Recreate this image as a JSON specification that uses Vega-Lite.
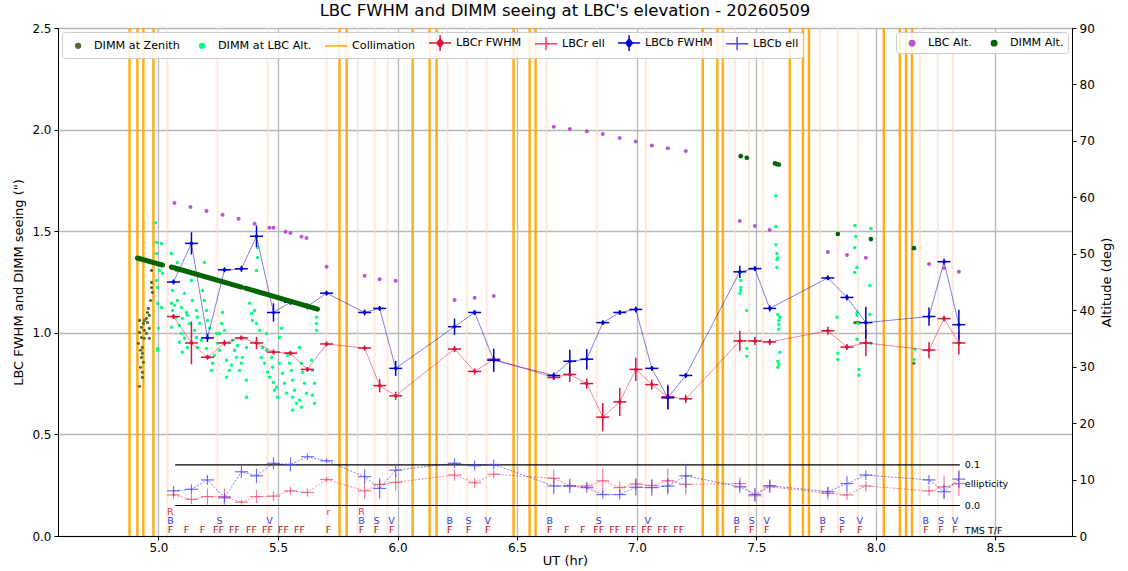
{
"$schema": "https://vega.github.io/schema/vega-lite/v6.json",
"width": 1014,
"height": 508,
"autosize": {"type": "none"},
"padding": {"left": 58, "top": 28, "right": 56, "bottom": 35},
"title": {"text": "LBC FWHM and DIMM seeing at LBC's elevation - 20260509", "fontSize": 16.5, "fontWeight": "normal", "font": "DejaVu Sans", "color": "black", "anchor": "middle", "offset": 3},
"config": {
  "font": "DejaVu Sans",
  "view": {"stroke": "black", "strokeWidth": 1},
  "axis": {"labelFontSize": 12, "titleFontSize": 13, "titleFontWeight": "normal", "labelColor": "black", "titleColor": "black", "domainColor": "black", "tickColor": "black", "tickSize": 4, "gridColor": "#b8b8b8", "gridWidth": 1.3, "labelPadding": 3, "titlePadding": 6},
  "axisX": {"labelPadding": 2, "titlePadding": 1},
  "legend": {"labelFontSize": 11.2, "labelColor": "black", "symbolSize": 144, "symbolStrokeWidth": 1.5, "labelOffset": 14, "padding": 4, "strokeColor": "#cccccc", "fillColor": "rgba(255,255,255,0.85)", "cornerRadius": 3, "columnPadding": 10, "symbolOpacity": 1, "offset": 4}
},
"datasets": {
  "filt": [{"t":5.038},{"t":5.247},{"t":5.456},{"t":5.703},{"t":5.833},{"t":5.904},{"t":5.958},{"t":6.209},{"t":6.289},{"t":6.372},{"t":6.623},{"t":6.833},{"t":7.038},{"t":7.41},{"t":7.469},{"t":7.527},{"t":7.766},{"t":7.841},{"t":7.925},{"t":8.184},{"t":8.259},{"t":8.322}],
  "coll": [{"t":4.879},{"t":4.912},{"t":4.937},{"t":4.979},{"t":5.757},{"t":5.787},{"t":6.063},{"t":6.134},{"t":6.163},{"t":6.485},{"t":6.552},{"t":6.577},{"t":7.276},{"t":7.337},{"t":7.36},{"t":7.64},{"t":7.695},{"t":7.72},{"t":8.033},{"t":8.1},{"t":8.126},{"t":8.151}],
  "dimmz": [{"t":4.971,"s":1.307},{"t":4.971,"s":1.248},{"t":4.971,"s":1.223},{"t":4.975,"s":1.199},{"t":4.967,"s":1.159},{"t":4.958,"s":1.12},{"t":4.954,"s":1.1},{"t":4.962,"s":1.086},{"t":4.95,"s":1.071},{"t":4.941,"s":1.061},{"t":4.921,"s":1.061},{"t":4.954,"s":1.051},{"t":4.937,"s":1.046},{"t":4.929,"s":1.027},{"t":4.962,"s":1.022},{"t":4.941,"s":1.012},{"t":4.921,"s":1.002},{"t":4.95,"s":0.997},{"t":4.929,"s":0.977},{"t":4.941,"s":0.973},{"t":4.962,"s":0.973},{"t":4.916,"s":0.948},{"t":4.933,"s":0.928},{"t":4.925,"s":0.914},{"t":4.933,"s":0.899},{"t":4.929,"s":0.879},{"t":4.937,"s":0.855},{"t":4.925,"s":0.83},{"t":4.933,"s":0.806},{"t":4.933,"s":0.781},{"t":4.921,"s":0.737},{"t":7.912,"s":1.05},{"t":7.921,"s":1.052},{"t":7.929,"s":1.05},{"t":8.159,"s":0.85}],
  "dimma": [{"t":4.987,"s":1.542},{"t":4.992,"s":1.444},{"t":5.013,"s":1.439},{"t":4.992,"s":1.39},{"t":5.013,"s":1.341},{"t":5.004,"s":1.307},{"t":5.017,"s":1.292},{"t":4.992,"s":1.257},{"t":4.996,"s":1.223},{"t":4.996,"s":1.144},{"t":5.013,"s":1.125},{"t":5.0,"s":1.022},{"t":4.996,"s":0.923},{"t":4.996,"s":0.914},
    {"t":5.054,"s":1.39},{"t":5.079,"s":1.346},{"t":5.075,"s":1.307},{"t":5.059,"s":1.208},{"t":5.054,"s":1.145},{"t":5.067,"s":1.135},{"t":5.059,"s":1.11},{"t":5.079,"s":1.159},{"t":5.096,"s":1.125},{"t":5.109,"s":1.194},{"t":5.117,"s":1.1},{"t":5.054,"s":1.027},{"t":5.075,"s":1.076},{"t":5.088,"s":1.036},{"t":5.1,"s":1.071},{"t":5.121,"s":1.086},{"t":5.138,"s":1.257},{"t":5.142,"s":1.159},{"t":5.13,"s":1.046},{"t":5.096,"s":0.997},{"t":5.109,"s":0.973},{"t":5.088,"s":0.953},{"t":5.121,"s":0.928},{"t":5.1,"s":0.904},{"t":5.159,"s":1.11},{"t":5.163,"s":1.076},{"t":5.172,"s":1.046},{"t":5.151,"s":1.012},{"t":5.159,"s":0.977},{"t":5.18,"s":0.963},{"t":5.163,"s":0.928},{"t":5.192,"s":1.346},{"t":5.184,"s":1.208},{"t":5.192,"s":1.159},{"t":5.201,"s":1.11},{"t":5.205,"s":1.061},{"t":5.213,"s":1.022},{"t":5.201,"s":0.923},{"t":5.213,"s":0.879},{"t":5.226,"s":0.85},{"t":5.222,"s":0.815},{"t":5.243,"s":0.997},{"t":5.247,"s":0.948},{"t":5.255,"s":0.914},{"t":5.234,"s":0.889},{"t":5.268,"s":1.1},{"t":5.264,"s":1.046},{"t":5.276,"s":1.012},{"t":5.285,"s":0.865},{"t":5.297,"s":0.815},{"t":5.285,"s":0.781},{"t":5.31,"s":0.963},{"t":5.318,"s":0.914},{"t":5.326,"s":0.879},{"t":5.331,"s":0.938},{"t":5.305,"s":0.84},{"t":5.339,"s":0.815},{"t":5.368,"s":0.766},{"t":5.368,"s":0.683},{"t":5.381,"s":1.145},{"t":5.389,"s":1.095},{"t":5.393,"s":1.061},{"t":5.402,"s":1.11},{"t":5.41,"s":1.046},{"t":5.414,"s":1.37},{"t":5.41,"s":1.307},{"t":5.414,"s":1.42},{"t":5.423,"s":1.012},{"t":5.435,"s":0.928},{"t":5.431,"s":0.879},{"t":5.444,"s":0.85},{"t":5.452,"s":0.914},{"t":5.456,"s":0.806},{"t":5.464,"s":0.781},{"t":5.473,"s":0.879},{"t":5.477,"s":0.83},{"t":5.481,"s":0.756},{"t":5.494,"s":0.732},{"t":5.485,"s":0.717},{"t":5.506,"s":0.85},{"t":5.515,"s":1.022},{"t":5.506,"s":0.977},{"t":5.519,"s":0.801},{"t":5.527,"s":0.752},{"t":5.536,"s":0.702},{"t":5.54,"s":0.889},{"t":5.548,"s":0.85},{"t":5.556,"s":0.815},{"t":5.561,"s":0.766},{"t":5.569,"s":0.717},{"t":5.561,"s":0.683},{"t":5.577,"s":0.653},{"t":5.59,"s":0.928},{"t":5.598,"s":0.85},{"t":5.603,"s":0.806},{"t":5.611,"s":0.752},{"t":5.619,"s":0.702},{"t":5.598,"s":0.634},{"t":5.64,"s":0.865},{"t":5.644,"s":0.815},{"t":5.653,"s":0.752},{"t":5.644,"s":0.693},{"t":5.653,"s":0.653},{"t":5.661,"s":1.076},{"t":5.661,"s":1.046},{"t":5.661,"s":1.012},{"t":5.59,"s":0.668},{"t":5.561,"s":0.619},{"t":5.498,"s":0.683},{"t":5.368,"s":0.928},{"t":5.351,"s":0.879},{"t":5.347,"s":0.85},{"t":5.452,"s":0.997},{"t":5.255,"s":0.997},
    {"t":7.582,"s":1.675},{"t":7.582,"s":1.523},{"t":7.582,"s":1.434},{"t":7.586,"s":1.39},{"t":7.59,"s":1.37},{"t":7.586,"s":1.361},{"t":7.586,"s":1.321},{"t":7.59,"s":1.09},{"t":7.598,"s":1.076},{"t":7.594,"s":1.061},{"t":7.594,"s":1.041},{"t":7.594,"s":1.017},{"t":7.598,"s":0.904},{"t":7.59,"s":0.86},{"t":7.594,"s":0.845},{"t":7.59,"s":0.83},{"t":7.435,"s":1.223},{"t":7.435,"s":1.208},{"t":7.431,"s":1.194},{"t":7.431,"s":1.297},{"t":7.435,"s":1.257},{"t":7.46,"s":1.11},{"t":7.46,"s":0.923},{"t":7.46,"s":0.884},{"t":7.912,"s":1.528},{"t":7.916,"s":1.474},{"t":7.912,"s":1.42},{"t":7.921,"s":1.321},{"t":7.912,"s":1.297},{"t":7.837,"s":1.076},{"t":7.921,"s":1.1},{"t":7.921,"s":1.086},{"t":7.925,"s":1.046},{"t":7.921,"s":0.968},{"t":7.841,"s":0.899},{"t":7.841,"s":0.869},{"t":7.929,"s":0.82},{"t":7.929,"s":0.791},{"t":7.979,"s":1.513},{"t":7.975,"s":1.233},{"t":7.975,"s":1.09},{"t":7.979,"s":0.948},{"t":8.163,"s":0.919},{"t":8.159,"s":0.869}],
  "lbc": [
    {"t":5.063,"bf":1.25,"bfe":0.012,"rf":1.08,"rfe":0.012,"be":0.036,"bee":0.012,"re":0.026,"ree":0.01},
    {"t":5.138,"bf":1.44,"bfe":0.055,"rf":0.95,"rfe":0.105,"be":0.04,"bee":0.012,"re":0.015,"ree":0.012},
    {"t":5.205,"bf":0.975,"bfe":0.02,"rf":0.88,"rfe":0.012,"be":0.063,"bee":0.012,"re":0.022,"ree":0.02},
    {"t":5.276,"bf":1.31,"bfe":0.012,"rf":0.95,"rfe":0.015,"be":0.019,"bee":0.012,"re":0.022,"ree":0.02},
    {"t":5.347,"bf":1.315,"bfe":0.015,"rf":0.975,"rfe":0.012,"be":0.083,"bee":0.015,"re":0.008,"ree":0.006},
    {"t":5.41,"bf":1.475,"bfe":0.053,"rf":0.95,"rfe":0.03,"be":0.073,"bee":0.018,"re":0.022,"ree":0.016},
    {"t":5.481,"bf":1.1,"bfe":0.045,"rf":0.905,"rfe":0.012,"be":0.104,"bee":0.015,"re":0.023,"ree":0.012},
    {"t":5.552,"bf":1.15,"bfe":0.012,"rf":0.9,"rfe":0.012,"be":0.101,"bee":0.017,"re":0.036,"ree":0.01},
    {"t":5.623,"bf":1.13,"bfe":0.015,"rf":0.82,"rfe":0.012,"be":0.12,"bee":0.008,"re":0.032,"ree":0.01},
    {"t":5.703,"bf":1.195,"bfe":0.012,"rf":0.945,"rfe":0.012,"be":0.11,"bee":0.006,"re":0.064,"ree":0.006},
    {"t":5.862,"bf":1.1,"bfe":0.015,"rf":0.925,"rfe":0.012,"be":0.071,"bee":0.018,"re":0.036,"ree":0.02},
    {"t":5.925,"bf":1.12,"bfe":0.012,"rf":0.74,"rfe":0.033,"be":0.042,"bee":0.025,"re":0.052,"ree":0.01},
    {"t":5.992,"bf":0.825,"bfe":0.037,"rf":0.69,"rfe":0.02,"be":0.087,"bee":0.016,"re":0.057,"ree":0.02},
    {"t":6.238,"bf":1.03,"bfe":0.04,"rf":0.92,"rfe":0.015,"be":0.104,"bee":0.012,"re":0.075,"ree":0.014},
    {"t":6.322,"bf":1.1,"bfe":0.012,"rf":0.81,"rfe":0.015,"be":0.098,"bee":0.012,"re":0.056,"ree":0.012},
    {"t":6.402,"bf":0.865,"bfe":0.057,"rf":0.87,"rfe":0.02,"be":0.101,"bee":0.012,"re":0.077,"ree":0.01},
    {"t":6.653,"bf":0.79,"bfe":0.015,"rf":0.78,"rfe":0.012,"be":0.048,"bee":0.02,"re":0.067,"ree":0.022},
    {"t":6.72,"bf":0.86,"bfe":0.057,"rf":0.795,"rfe":0.037,"be":0.048,"bee":0.018,"re":0.049,"ree":0.01},
    {"t":6.791,"bf":0.87,"bfe":0.05,"rf":0.75,"rfe":0.025,"be":0.044,"bee":0.012,"re":0.048,"ree":0.01},
    {"t":6.858,"bf":1.05,"bfe":0.012,"rf":0.585,"rfe":0.07,"be":0.027,"bee":0.01,"re":0.061,"ree":0.03},
    {"t":6.929,"bf":1.1,"bfe":0.012,"rf":0.66,"rfe":0.07,"be":0.027,"bee":0.012,"re":0.044,"ree":0.015},
    {"t":6.996,"bf":1.115,"bfe":0.015,"rf":0.82,"rfe":0.057,"be":0.045,"bee":0.02,"re":0.053,"ree":0.015},
    {"t":7.063,"bf":0.825,"bfe":0.012,"rf":0.745,"rfe":0.025,"be":0.044,"bee":0.02,"re":0.049,"ree":0.015},
    {"t":7.13,"bf":0.68,"bfe":0.057,"rf":0.685,"rfe":0.06,"be":0.048,"bee":0.02,"re":0.061,"ree":0.03},
    {"t":7.205,"bf":0.79,"bfe":0.012,"rf":0.675,"rfe":0.02,"be":0.073,"bee":0.03,"re":0.052,"ree":0.025},
    {"t":7.431,"bf":1.3,"bfe":0.03,"rf":0.96,"rfe":0.05,"be":0.046,"bee":0.015,"re":0.054,"ree":0.015},
    {"t":7.494,"bf":1.316,"bfe":0.012,"rf":0.96,"rfe":0.02,"be":0.027,"bee":0.016,"re":0.024,"ree":0.015},
    {"t":7.556,"bf":1.12,"bfe":0.015,"rf":0.955,"rfe":0.015,"be":0.049,"bee":0.015,"re":0.046,"ree":0.015},
    {"t":7.799,"bf":1.27,"bfe":0.012,"rf":1.01,"rfe":0.02,"be":0.034,"bee":0.012,"re":0.03,"ree":0.015},
    {"t":7.879,"bf":1.174,"bfe":0.015,"rf":0.93,"rfe":0.015,"be":0.054,"bee":0.018,"re":0.026,"ree":0.012},
    {"t":7.958,"bf":1.05,"bfe":0.078,"rf":0.95,"rfe":0.065,"be":0.075,"bee":0.012,"re":0.048,"ree":0.012},
    {"t":8.222,"bf":1.08,"bfe":0.045,"rf":0.915,"rfe":0.04,"be":0.063,"bee":0.012,"re":0.036,"ree":0.012},
    {"t":8.285,"bf":1.35,"bfe":0.015,"rf":1.07,"rfe":0.015,"be":0.034,"bee":0.018,"re":0.046,"ree":0.028},
    {"t":8.347,"bf":1.04,"bfe":0.074,"rf":0.95,"rfe":0.057,"be":0.065,"bee":0.022,"re":0.054,"ree":0.03}],
  "tmsR": [{"t":5.05,"txt":"R"},{"t":5.711,"txt":"r"},{"t":5.849,"txt":"R"}],
  "tmsB": [{"t":5.05,"txt":"B"},{"t":5.255,"txt":"S"},{"t":5.464,"txt":"V"},{"t":5.849,"txt":"B"},{"t":5.912,"txt":"S"},{"t":5.975,"txt":"V"},{"t":6.218,"txt":"B"},{"t":6.297,"txt":"S"},{"t":6.377,"txt":"V"},{"t":6.636,"txt":"B"},{"t":6.841,"txt":"S"},{"t":7.046,"txt":"V"},{"t":7.418,"txt":"B"},{"t":7.481,"txt":"S"},{"t":7.544,"txt":"V"},{"t":7.778,"txt":"B"},{"t":7.858,"txt":"S"},{"t":7.933,"txt":"V"},{"t":8.209,"txt":"B"},{"t":8.272,"txt":"S"},{"t":8.331,"txt":"V"}],
  "tmsF": [{"t":5.05,"txt":"F"},{"t":5.117,"txt":"F"},{"t":5.184,"txt":"F"},{"t":5.251,"txt":"FF"},{"t":5.318,"txt":"FF"},{"t":5.389,"txt":"FF"},{"t":5.456,"txt":"FF"},{"t":5.523,"txt":"FF"},{"t":5.59,"txt":"FF"},{"t":5.711,"txt":"F"},{"t":5.849,"txt":"F"},{"t":5.912,"txt":"F"},{"t":5.975,"txt":"F"},{"t":6.218,"txt":"F"},{"t":6.297,"txt":"F"},{"t":6.377,"txt":"F"},{"t":6.636,"txt":"F"},{"t":6.707,"txt":"F"},{"t":6.774,"txt":"F"},{"t":6.841,"txt":"FF"},{"t":6.908,"txt":"FF"},{"t":6.975,"txt":"FF"},{"t":7.042,"txt":"FF"},{"t":7.109,"txt":"FF"},{"t":7.176,"txt":"FF"},{"t":7.418,"txt":"F"},{"t":7.481,"txt":"F"},{"t":7.544,"txt":"F"},{"t":7.778,"txt":"F"},{"t":7.858,"txt":"F"},{"t":7.933,"txt":"F"},{"t":8.209,"txt":"F"},{"t":8.272,"txt":"F"},{"t":8.331,"txt":"F"}],
  "tmsLab": [{"t":8.372,"s":0.025,"txt":"TMS T/F"}],
  "ellref": [{"t":5.07,"t2":8.351,"e":0},{"t":5.07,"t2":8.351,"e":0.1}],
  "ellLab": [{"t":8.372,"e":0.1,"txt":"0.1"},{"t":8.372,"e":0.052,"txt":"ellipticity"},{"t":8.372,"e":0.0,"txt":"0.0"}],
  "lbcalt": [{"t":5.067,"alt":59.0},{"t":5.134,"alt":58.3},{"t":5.201,"alt":57.6},{"t":5.268,"alt":56.9},{"t":5.335,"alt":56.2},{"t":5.402,"alt":55.3},{"t":5.464,"alt":54.6},{"t":5.481,"alt":54.6},{"t":5.531,"alt":53.9},{"t":5.552,"alt":53.7},{"t":5.598,"alt":53.0},{"t":5.619,"alt":52.8},{"t":5.703,"alt":47.7},{"t":5.862,"alt":46.1},{"t":5.925,"alt":45.5},{"t":5.992,"alt":45.2},{"t":6.238,"alt":41.8},{"t":6.322,"alt":42.2},{"t":6.402,"alt":42.5},{"t":6.653,"alt":72.5},{"t":6.72,"alt":72.1},{"t":6.791,"alt":71.7},{"t":6.858,"alt":71.2},{"t":6.929,"alt":70.5},{"t":6.996,"alt":69.9},{"t":7.063,"alt":69.2},{"t":7.13,"alt":68.7},{"t":7.205,"alt":68.2},{"t":7.431,"alt":55.8},{"t":7.494,"alt":54.9},{"t":7.556,"alt":54.2},{"t":7.799,"alt":50.3},{"t":7.879,"alt":49.8},{"t":7.958,"alt":49.3},{"t":8.222,"alt":48.2},{"t":8.285,"alt":47.5},{"t":8.347,"alt":46.8}],
  "dimmaltLine": [{"t":4.912,"alt":49.25,"seg":"a"},{"t":5.017,"alt":48.0,"seg":"a"},{"t":5.054,"alt":47.66,"seg":"b"},{"t":5.347,"alt":44.1,"seg":"b"},{"t":5.364,"alt":43.9,"seg":"c"},{"t":5.665,"alt":40.2,"seg":"c"}],
  "dimmaltPts": [{"t":7.435,"alt":67.3},{"t":7.46,"alt":67.0},{"t":7.578,"alt":66.0},{"t":7.586,"alt":65.9},{"t":7.594,"alt":65.8},{"t":7.841,"alt":53.5},{"t":7.979,"alt":52.6},{"t":8.159,"alt":51.0}],
  "leg1": [{"label":"DIMM at Zenith"},{"label":"DIMM at LBC Alt."},{"label":"Collimation"},{"label":"LBCr FWHM"},{"label":"LBCr ell"},{"label":"LBCb FWHM"},{"label":"LBCb ell"}],
  "leg2": [{"label":"LBC Alt."},{"label":"DIMM Alt."}]
},
"encoding": {"x": {"field": "t", "type": "quantitative", "scale": {"domain": [4.58, 8.82], "nice": false, "zero": false}, "title": "UT (hr)", "axis": {"values": [5, 5.5, 6, 6.5, 7, 7.5, 8, 8.5], "format": ".1f", "grid": true}}},
"resolve": {"scale": {"y": "independent", "fill": "independent", "stroke": "independent", "shape": "independent"}},
"layer": [
  {"layer": [
    {"data": {"name": "filt"}, "mark": {"type": "rule", "color": "#ffd8bd", "strokeWidth": 2, "opacity": 0.6}, "encoding": {}},
    {"data": {"name": "coll"}, "mark": {"type": "rule", "color": "#ffa500", "strokeWidth": 2.5, "opacity": 0.9}, "encoding": {}},
    {"data": {"name": "dimmz"}, "mark": {"type": "point", "filled": true, "color": "#556b2f", "size": 10, "opacity": 1},
     "encoding": {"y": {"field": "s", "type": "quantitative", "scale": {"domain": [0, 2.5], "nice": false, "zero": false}, "title": "LBC FWHM and DIMM seeing (\")", "axis": {"values": [0, 0.5, 1, 1.5, 2, 2.5], "format": ".1f", "grid": true}}}},
    {"data": {"name": "dimma"}, "mark": {"type": "point", "filled": true, "color": "#00ff7f", "size": 12, "opacity": 1},
     "encoding": {"y": {"field": "s", "type": "quantitative", "scale": {"domain": [0, 2.5], "nice": false, "zero": false}, "title": "LBC FWHM and DIMM seeing (\")", "axis": {"values": [0, 0.5, 1, 1.5, 2, 2.5], "format": ".1f", "grid": true}}}},
    {"data": {"name": "lbc"}, "mark": {"type": "line", "color": "crimson", "strokeWidth": 1, "opacity": 0.5},
     "encoding": {"y": {"field": "rf", "type": "quantitative", "scale": {"domain": [0, 2.5], "nice": false, "zero": false}, "title": "LBC FWHM and DIMM seeing (\")", "axis": {"values": [0, 0.5, 1, 1.5, 2, 2.5], "format": ".1f", "grid": true}}}},
    {"data": {"name": "lbc"}, "mark": {"type": "errorbar", "color": "crimson", "thickness": 1.5},
     "encoding": {"y": {"field": "rf", "type": "quantitative", "scale": {"domain": [0, 2.5], "nice": false, "zero": false}, "title": "LBC FWHM and DIMM seeing (\")", "axis": {"values": [0, 0.5, 1, 1.5, 2, 2.5], "format": ".1f", "grid": true}}, "yError": {"field": "rfe"}}},
    {"data": {"name": "lbc"}, "mark": {"type": "tick", "orient": "horizontal", "size": 13, "thickness": 1.5, "color": "crimson", "opacity": 1},
     "encoding": {"y": {"field": "rf", "type": "quantitative", "scale": {"domain": [0, 2.5], "nice": false, "zero": false}, "title": "LBC FWHM and DIMM seeing (\")", "axis": {"values": [0, 0.5, 1, 1.5, 2, 2.5], "format": ".1f", "grid": true}}}},
    {"data": {"name": "lbc"}, "mark": {"type": "point", "shape": "diamond", "filled": true, "size": 22, "color": "crimson", "opacity": 1},
     "encoding": {"y": {"field": "rf", "type": "quantitative", "scale": {"domain": [0, 2.5], "nice": false, "zero": false}, "title": "LBC FWHM and DIMM seeing (\")", "axis": {"values": [0, 0.5, 1, 1.5, 2, 2.5], "format": ".1f", "grid": true}}}},
    {"data": {"name": "lbc"}, "mark": {"type": "line", "color": "#0000cd", "strokeWidth": 1, "opacity": 0.5},
     "encoding": {"y": {"field": "bf", "type": "quantitative", "scale": {"domain": [0, 2.5], "nice": false, "zero": false}, "title": "LBC FWHM and DIMM seeing (\")", "axis": {"values": [0, 0.5, 1, 1.5, 2, 2.5], "format": ".1f", "grid": true}}}},
    {"data": {"name": "lbc"}, "mark": {"type": "errorbar", "color": "#0000cd", "thickness": 1.5},
     "encoding": {"y": {"field": "bf", "type": "quantitative", "scale": {"domain": [0, 2.5], "nice": false, "zero": false}, "title": "LBC FWHM and DIMM seeing (\")", "axis": {"values": [0, 0.5, 1, 1.5, 2, 2.5], "format": ".1f", "grid": true}}, "yError": {"field": "bfe"}}},
    {"data": {"name": "lbc"}, "mark": {"type": "tick", "orient": "horizontal", "size": 13, "thickness": 1.5, "color": "#0000cd", "opacity": 1},
     "encoding": {"y": {"field": "bf", "type": "quantitative", "scale": {"domain": [0, 2.5], "nice": false, "zero": false}, "title": "LBC FWHM and DIMM seeing (\")", "axis": {"values": [0, 0.5, 1, 1.5, 2, 2.5], "format": ".1f", "grid": true}}}},
    {"data": {"name": "lbc"}, "mark": {"type": "point", "shape": "diamond", "filled": true, "size": 22, "color": "#0000cd", "opacity": 1},
     "encoding": {"y": {"field": "bf", "type": "quantitative", "scale": {"domain": [0, 2.5], "nice": false, "zero": false}, "title": "LBC FWHM and DIMM seeing (\")", "axis": {"values": [0, 0.5, 1, 1.5, 2, 2.5], "format": ".1f", "grid": true}}}},
    {"data": {"name": "tmsR"}, "mark": {"type": "text", "color": "#e0304a", "fontSize": 9.5, "align": "center", "baseline": "middle"},
     "encoding": {"y": {"datum": 0.118, "type": "quantitative", "scale": {"domain": [0, 2.5], "nice": false, "zero": false}, "title": "LBC FWHM and DIMM seeing (\")", "axis": {"values": [0, 0.5, 1, 1.5, 2, 2.5], "format": ".1f", "grid": true}}, "text": {"field": "txt"}}},
    {"data": {"name": "tmsB"}, "mark": {"type": "text", "color": "#3040dd", "fontSize": 9.5, "align": "center", "baseline": "middle"},
     "encoding": {"y": {"datum": 0.072, "type": "quantitative", "scale": {"domain": [0, 2.5], "nice": false, "zero": false}, "title": "LBC FWHM and DIMM seeing (\")", "axis": {"values": [0, 0.5, 1, 1.5, 2, 2.5], "format": ".1f", "grid": true}}, "text": {"field": "txt"}}},
    {"data": {"name": "tmsF"}, "mark": {"type": "text", "color": "#b0182a", "fontSize": 9.5, "align": "center", "baseline": "middle"},
     "encoding": {"y": {"datum": 0.028, "type": "quantitative", "scale": {"domain": [0, 2.5], "nice": false, "zero": false}, "title": "LBC FWHM and DIMM seeing (\")", "axis": {"values": [0, 0.5, 1, 1.5, 2, 2.5], "format": ".1f", "grid": true}}, "text": {"field": "txt"}}},
    {"data": {"name": "tmsLab"}, "mark": {"type": "text", "color": "black", "fontSize": 9.5, "align": "left", "baseline": "middle"},
     "encoding": {"y": {"field": "s", "type": "quantitative", "scale": {"domain": [0, 2.5], "nice": false, "zero": false}, "title": "LBC FWHM and DIMM seeing (\")", "axis": {"values": [0, 0.5, 1, 1.5, 2, 2.5], "format": ".1f", "grid": true}}, "text": {"field": "txt"}}},
    {"data": {"name": "leg1"}, "mark": {"type": "point", "filled": true, "clip": true},
     "encoding": {
       "y": {"field": "s", "type": "quantitative", "scale": {"domain": [0, 2.5], "nice": false, "zero": false}, "title": "LBC FWHM and DIMM seeing (\")", "axis": {"values": [0, 0.5, 1, 1.5, 2, 2.5], "format": ".1f", "grid": true}},
       "fill": {"field": "label", "type": "nominal", "scale": {"domain": ["DIMM at Zenith", "DIMM at LBC Alt.", "Collimation", "LBCr FWHM", "LBCr ell", "LBCb FWHM", "LBCb ell"], "range": ["#556b2f", "#00ff7f", "#ffa500", "crimson", "#ee4466", "#0000cd", "#4848ff"]}, "legend": {"title": null, "orient": "top-left", "direction": "horizontal", "columns": 7}},
       "stroke": {"field": "label", "type": "nominal", "scale": {"domain": ["DIMM at Zenith", "DIMM at LBC Alt.", "Collimation", "LBCr FWHM", "LBCr ell", "LBCb FWHM", "LBCb ell"], "range": ["#556b2f", "#00ff7f", "#ffa500", "crimson", "#ee4466", "#0000cd", "#4848ff"]}, "legend": {"title": null, "orient": "top-left", "direction": "horizontal", "columns": 7}},
       "shape": {"field": "label", "type": "nominal", "scale": {"domain": ["DIMM at Zenith", "DIMM at LBC Alt.", "Collimation", "LBCr FWHM", "LBCr ell", "LBCb FWHM", "LBCb ell"], "range": ["M0.45,0A0.4,0.4 0 1,0 1.25,0A0.4,0.4 0 1,0 0.45,0Z", "M0.45,0A0.4,0.4 0 1,0 1.25,0A0.4,0.4 0 1,0 0.45,0Z", "M-1,0H2.7", "M-1,0H2.7M0.85,-1.3V1.3M0.3,0L0.85,-0.7L1.4,0L0.85,0.7Z", "M-1,0H2.7M0.85,-1.1V1.1", "M-1,0H2.7M0.85,-1.3V1.3M0.3,0L0.85,-0.7L1.4,0L0.85,0.7Z", "M-1,0H2.7M0.85,-1.1V1.1"]}, "legend": {"title": null, "orient": "top-left", "direction": "horizontal", "columns": 7}}}}
  ]},
  {"layer": [
    {"data": {"name": "ellref"}, "mark": {"type": "rule", "color": "black", "strokeWidth": 1.2},
     "encoding": {"x2": {"field": "t2"},
       "y": {"field": "e", "type": "quantitative", "scale": {"domain": [-0.075, 1.175], "nice": false, "zero": false}, "title": null, "axis": {"orient": "left", "domain": false, "ticks": false, "labels": false, "grid": false}}}},
    {"data": {"name": "lbc"}, "mark": {"type": "line", "color": "crimson", "strokeWidth": 1, "strokeDash": [2, 1.5], "opacity": 0.5},
     "encoding": {"y": {"field": "re", "type": "quantitative", "scale": {"domain": [-0.075, 1.175], "nice": false, "zero": false}, "title": null, "axis": {"orient": "left", "domain": false, "ticks": false, "labels": false, "grid": false}}}},
    {"data": {"name": "lbc"}, "mark": {"type": "errorbar", "color": "#ee4466", "thickness": 1.2, "opacity": 0.7},
     "encoding": {"y": {"field": "re", "type": "quantitative", "scale": {"domain": [-0.075, 1.175], "nice": false, "zero": false}, "title": null, "axis": {"orient": "left", "domain": false, "ticks": false, "labels": false, "grid": false}}, "yError": {"field": "ree"}}},
    {"data": {"name": "lbc"}, "mark": {"type": "tick", "orient": "horizontal", "size": 13, "thickness": 1.2, "color": "#ee4466", "opacity": 0.7},
     "encoding": {"y": {"field": "re", "type": "quantitative", "scale": {"domain": [-0.075, 1.175], "nice": false, "zero": false}, "title": null, "axis": {"orient": "left", "domain": false, "ticks": false, "labels": false, "grid": false}}}},
    {"data": {"name": "lbc"}, "mark": {"type": "line", "color": "#0000cd", "strokeWidth": 1, "strokeDash": [2, 1.5], "opacity": 0.5},
     "encoding": {"y": {"field": "be", "type": "quantitative", "scale": {"domain": [-0.075, 1.175], "nice": false, "zero": false}, "title": null, "axis": {"orient": "left", "domain": false, "ticks": false, "labels": false, "grid": false}}}},
    {"data": {"name": "lbc"}, "mark": {"type": "errorbar", "color": "#4848ff", "thickness": 1.2, "opacity": 0.8},
     "encoding": {"y": {"field": "be", "type": "quantitative", "scale": {"domain": [-0.075, 1.175], "nice": false, "zero": false}, "title": null, "axis": {"orient": "left", "domain": false, "ticks": false, "labels": false, "grid": false}}, "yError": {"field": "bee"}}},
    {"data": {"name": "lbc"}, "mark": {"type": "tick", "orient": "horizontal", "size": 13, "thickness": 1.2, "color": "#4848ff", "opacity": 0.8},
     "encoding": {"y": {"field": "be", "type": "quantitative", "scale": {"domain": [-0.075, 1.175], "nice": false, "zero": false}, "title": null, "axis": {"orient": "left", "domain": false, "ticks": false, "labels": false, "grid": false}}}},
    {"data": {"name": "ellLab"}, "mark": {"type": "text", "color": "black", "fontSize": 9.5, "align": "left", "baseline": "middle"},
     "encoding": {"y": {"field": "e", "type": "quantitative", "scale": {"domain": [-0.075, 1.175], "nice": false, "zero": false}, "title": null, "axis": {"orient": "left", "domain": false, "ticks": false, "labels": false, "grid": false}}, "text": {"field": "txt"}}}
  ]},
  {"layer": [
    {"data": {"name": "lbcalt"}, "mark": {"type": "point", "filled": true, "color": "mediumorchid", "size": 16, "opacity": 1},
     "encoding": {"y": {"field": "alt", "type": "quantitative", "scale": {"domain": [0, 90], "nice": false, "zero": false}, "title": "Altitude (deg)", "axis": {"orient": "right", "values": [0, 10, 20, 30, 40, 50, 60, 70, 80, 90], "grid": false, "titleAngle": 270, "titleBaseline": "top"}}}},
    {"data": {"name": "dimmaltLine"}, "mark": {"type": "line", "color": "#006400", "strokeWidth": 5, "strokeCap": "round"},
     "encoding": {"y": {"field": "alt", "type": "quantitative", "scale": {"domain": [0, 90], "nice": false, "zero": false}, "title": "Altitude (deg)", "axis": {"orient": "right", "values": [0, 10, 20, 30, 40, 50, 60, 70, 80, 90], "grid": false, "titleAngle": 270, "titleBaseline": "top"}}, "detail": {"field": "seg", "type": "nominal"}}},
    {"data": {"name": "dimmaltPts"}, "mark": {"type": "point", "filled": true, "color": "#006400", "size": 22, "opacity": 1},
     "encoding": {"y": {"field": "alt", "type": "quantitative", "scale": {"domain": [0, 90], "nice": false, "zero": false}, "title": "Altitude (deg)", "axis": {"orient": "right", "values": [0, 10, 20, 30, 40, 50, 60, 70, 80, 90], "grid": false, "titleAngle": 270, "titleBaseline": "top"}}}},
    {"data": {"name": "leg2"}, "mark": {"type": "point", "filled": true, "clip": true},
     "encoding": {
       "y": {"field": "alt", "type": "quantitative", "scale": {"domain": [0, 90], "nice": false, "zero": false}, "title": "Altitude (deg)", "axis": {"orient": "right", "values": [0, 10, 20, 30, 40, 50, 60, 70, 80, 90], "grid": false, "titleAngle": 270, "titleBaseline": "top"}},
       "fill": {"field": "label", "type": "nominal", "scale": {"domain": ["LBC Alt.", "DIMM Alt."], "range": ["mediumorchid", "#006400"]}, "legend": {"title": null, "orient": "top-right", "direction": "horizontal", "columns": 2}},
       "stroke": {"field": "label", "type": "nominal", "scale": {"domain": ["LBC Alt.", "DIMM Alt."], "range": ["mediumorchid", "#006400"]}, "legend": {"title": null, "orient": "top-right", "direction": "horizontal", "columns": 2}},
       "shape": {"field": "label", "type": "nominal", "scale": {"domain": ["LBC Alt.", "DIMM Alt."], "range": ["M0.4,0A0.45,0.45 0 1,0 1.3,0A0.45,0.45 0 1,0 0.4,0Z", "M0.4,0A0.45,0.45 0 1,0 1.3,0A0.45,0.45 0 1,0 0.4,0Z"]}, "legend": {"title": null, "orient": "top-right", "direction": "horizontal", "columns": 2}}}}
  ]}
]
}
